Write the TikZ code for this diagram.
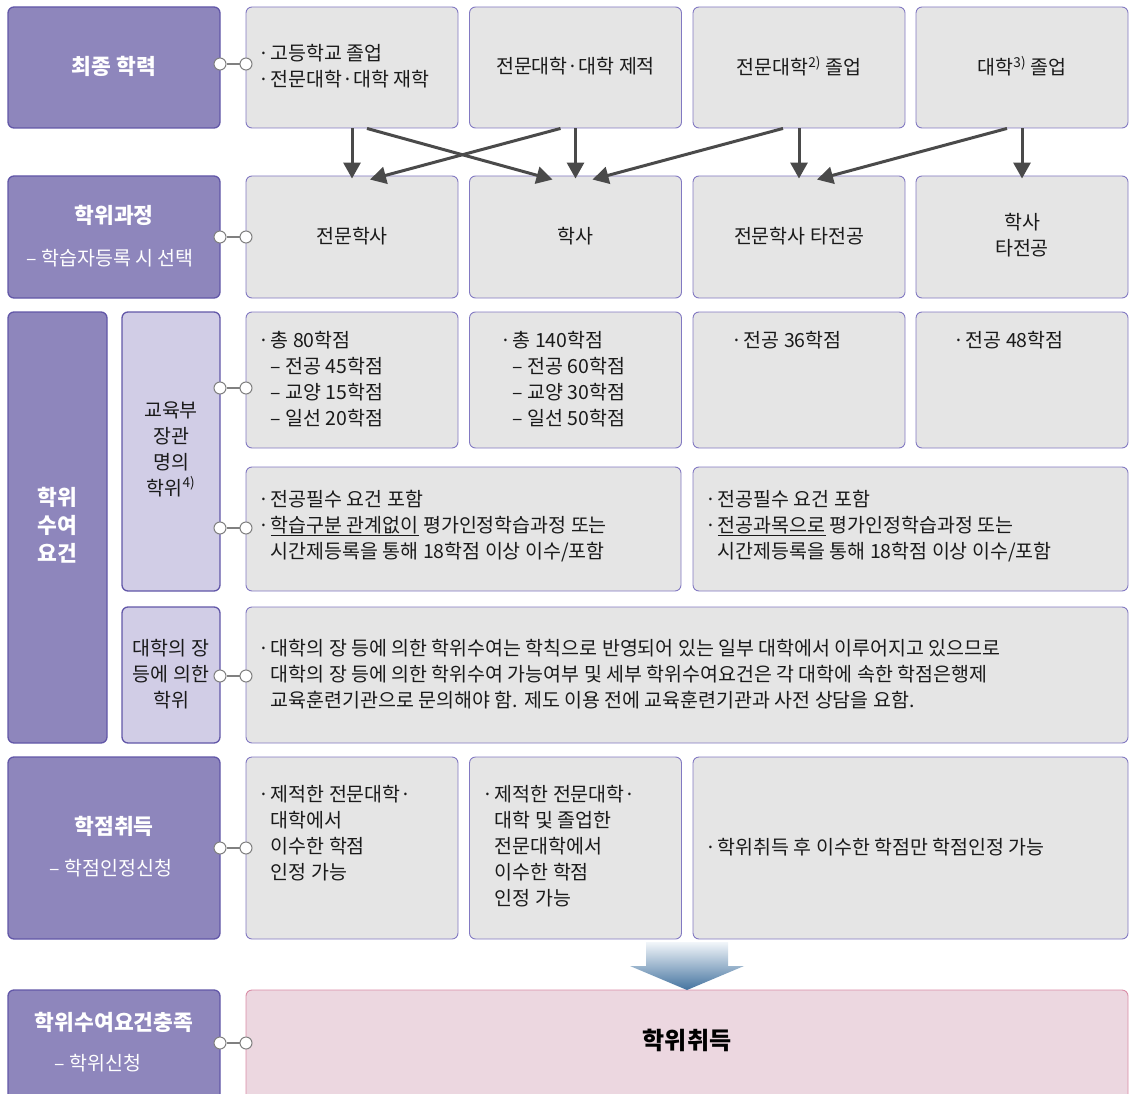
\documentclass[tikz,border=0pt]{standalone}
\usepackage{fontspec}
\setmainfont{Noto Sans CJK KR}
\usetikzlibrary{arrows.meta}

\definecolor{headfill}{HTML}{8E86BC}
\definecolor{headline}{HTML}{6257A8}
\definecolor{subfill}{HTML}{D1CDE6}
\definecolor{infofill}{HTML}{E5E5E5}
\definecolor{infoline}{HTML}{8279C2}
\definecolor{goalfill}{HTML}{ECD7E0}
\definecolor{goalline}{HTML}{D98CA6}
\definecolor{flowgray}{HTML}{4A4A4A}
\definecolor{inkgray}{HTML}{1A1A1A}
\definecolor{shadetop}{HTML}{F2F6FA}
\definecolor{shadebot}{HTML}{44739F}

% bullet and hanging indent for the grey boxes
\newcommand{\bul}{\makebox[0.65em][l]{·}}
\newcommand{\ind}{\hspace*{0.65em}}

\tikzset{
		% purple heads on the left, grey content boxes, pink goal box
		head node/.style={rectangle,rounded corners=6,draw=headline,line width=1.3,fill=headfill},
		sub node/.style={rectangle,rounded corners=6,draw=headline,line width=1.3,fill=subfill},
		info node/.style={rectangle,rounded corners=6,draw=infoline,line width=0.9,fill=infofill},
		goal node/.style={rectangle,rounded corners=6,draw=goalline,line width=0.9,fill=goalfill},
		head text/.style={text=white,font=\fontsize{21.5}{28}\selectfont\bfseries,align=center,inner sep=0},
		note text/.style={text=white,font=\fontsize{19.5}{26}\selectfont,align=center,inner sep=0},
		body text/.style={text=inkgray,font=\fontsize{19.5}{26}\selectfont,align=left,inner sep=0},
		link dot/.style={circle,draw=gray,fill=white,line width=1,inner sep=0,minimum size=12},
		flow arrow/.style={draw=flowgray,line width=3,-{Triangle[length=16,width=17]}}
	}

\begin{document}
\begin{tikzpicture}
		[x=1pt,y=-1pt,
			every node/.append style={minimum width=0,minimum height=0}
		]
		\useasboundingbox (0,0) rectangle (1129,1094);
		% left column
		\node[head node,minimum width=212,minimum height=121] (hEdu) at (114,67.5) {};
		\node[head node,minimum width=212,minimum height=122] (hDeg) at (114,237) {};
		\node[head node,minimum width=99,minimum height=431] (hReq) at (57.5,527.5) {};
		\node[sub node,minimum width=98,minimum height=279] (sMin) at (171,451.5) {};
		\node[sub node,minimum width=98,minimum height=136] (sUni) at (171,675) {};
		\node[head node,minimum width=212,minimum height=182] (hCred) at (114,848) {};
		\node[head node,minimum width=212,minimum height=120] (hDone) at (114,1050) {};
		% grey boxes, four columns
		\foreach \n/\x in {1/352,2/575.5,3/799,4/1022}{
			\node[info node,minimum width=212,minimum height=121] (edu\n) at (\x,67.5) {};
			\node[info node,minimum width=212,minimum height=122] (deg\n) at (\x,237) {};
			\node[info node,minimum width=212,minimum height=136] (crd\n) at (\x,380) {};
		}
		\node[info node,minimum width=435,minimum height=124] (rqA) at (463.5,529) {};
		\node[info node,minimum width=435,minimum height=124] (rqB) at (910.5,529) {};
		\node[info node,minimum width=882,minimum height=136] (uni) at (687,675) {};
		\node[info node,minimum width=212,minimum height=182] (get1) at (352,848) {};
		\node[info node,minimum width=212,minimum height=182] (get2) at (575.5,848) {};
		\node[info node,minimum width=435,minimum height=182] (getR) at (910.5,848) {};
		\node[goal node,minimum width=882,minimum height=120] (goal) at (687,1050) {};
		% connectors
		\foreach \n/\y in {1/64,2/237,3/388,4/528,5/676,6/848,7/1043}{
			\node[link dot] (la\n) at (220,\y) {};
			\node[link dot] (lb\n) at (246,\y) {};
			\draw[gray,line width=1.2] (la\n) -- (lb\n);
		}
		% arrows between the first two rows
		\foreach \n in {1,2,3,4}
		\draw[flow arrow] (edu\n.south) -- ([yshift=-3]deg\n.north);
		\draw[flow arrow] ([xshift=15]edu1.south) -- ([xshift=-23,yshift=-4]deg2.north);
		\draw[flow arrow] ([xshift=-15]edu2.south) -- ([xshift=18,yshift=-4]deg1.north);
		\draw[flow arrow] ([xshift=-16]edu3.south) -- ([xshift=17,yshift=-4]deg2.north);
		\draw[flow arrow] ([xshift=-15]edu4.south) -- ([xshift=18,yshift=-4]deg3.north);
		% big arrow down to the goal
		\shade[top color=shadetop,bottom color=shadebot]
		(646,942) -- (728,942) -- (728,966) -- (744,966) -- (687,990) -- (630,966) -- (646,966) -- cycle;
		% left texts
		\node[head text] (tEdu) at (114,66) {최종 학력};
		\node[head text] (tDeg) at (114,215) {학위과정};
		\node[note text] (nDeg) at (110,258) {– 학습자등록 시 선택};
		\node[head text] (tReq) at (57,525) {학위\\수여\\요건};
		\node[body text,align=center] (tMin) at (171,449) {교육부\\장관\\명의\\학위\textsuperscript{4)}};
		\node[body text,align=center] (tUni) at (171,674) {대학의 장\\등에 의한\\학위};
		\node[head text] (tCred) at (114,826) {학점취득};
		\node[note text] (nCred) at (111,868) {– 학점인정신청};
		\node[head text] (tDone) at (114,1022) {학위수여요건충족};
		\node[note text] (nDone) at (98,1063) {– 학위신청};
		% texts in the grey boxes
		\node[body text,anchor=west] (te1) at (258,66) {\bul 고등학교 졸업\\\bul 전문대학·대학 재학};
		\node[body text] (te2) at (575.5,66) {전문대학·대학 제적};
		\node[body text] (te3) at (799,66) {전문대학\textsuperscript{2)} 졸업};
		\node[body text] (te4) at (1022,66) {대학\textsuperscript{3)} 졸업};
		\node[body text] (td1) at (352,236) {전문학사};
		\node[body text] (td2) at (575.5,236) {학사};
		\node[body text] (td3) at (799,236) {전문학사 타전공};
		\node[body text,align=center] (td4) at (1022,235) {학사\\타전공};
		\node[body text,anchor=west] (tc1) at (258,379) {\bul 총 80학점\\\ind– 전공 45학점\\\ind– 교양 15학점\\\ind– 일선 20학점};
		\node[body text,anchor=west] (tc2) at (500,379) {\bul 총 140학점\\\ind– 전공 60학점\\\ind– 교양 30학점\\\ind– 일선 50학점};
		\node[body text,anchor=west] (tc3) at (731,340) {\bul 전공 36학점};
		\node[body text,anchor=west] (tc4) at (953,340) {\bul 전공 48학점};
		\node[body text,anchor=west] (trA) at (258,526) {\bul 전공필수 요건 포함\\\bul \underline{학습구분 관계없이} 평가인정학습과정 또는\\\ind 시간제등록을 통해 18학점 이상 이수/포함};
		\node[body text,anchor=west] (trB) at (705,526) {\bul 전공필수 요건 포함\\\bul \underline{전공과목으로} 평가인정학습과정 또는\\\ind 시간제등록을 통해 18학점 이상 이수/포함};
		\node[body text,anchor=west] (tuni) at (258,674) {\bul 대학의 장 등에 의한 학위수여는 학칙으로 반영되어 있는 일부 대학에서 이루어지고 있으므로\\\ind 대학의 장 등에 의한 학위수여 가능여부 및 세부 학위수여요건은 각 대학에 속한 학점은행제\\\ind 교육훈련기관으로 문의해야 함. 제도 이용 전에 교육훈련기관과 사전 상담을 요함.};
		\node[body text,anchor=west] (tg1) at (258,833.5) {\bul 제적한 전문대학·\\\ind 대학에서\\\ind 이수한 학점\\\ind 인정 가능};
		\node[body text,anchor=west] (tg2) at (482,846.5) {\bul 제적한 전문대학·\\\ind 대학 및 졸업한\\\ind 전문대학에서\\\ind 이수한 학점\\\ind 인정 가능};
		\node[body text,anchor=west] (tgR) at (705,847) {\bul 학위취득 후 이수한 학점만 학점인정 가능};
		\node[text=black,font=\fontsize{24}{28}\selectfont\bfseries,inner sep=0] (tGoal) at (687,1040) {학위취득};
	\end{tikzpicture}
\end{document}
